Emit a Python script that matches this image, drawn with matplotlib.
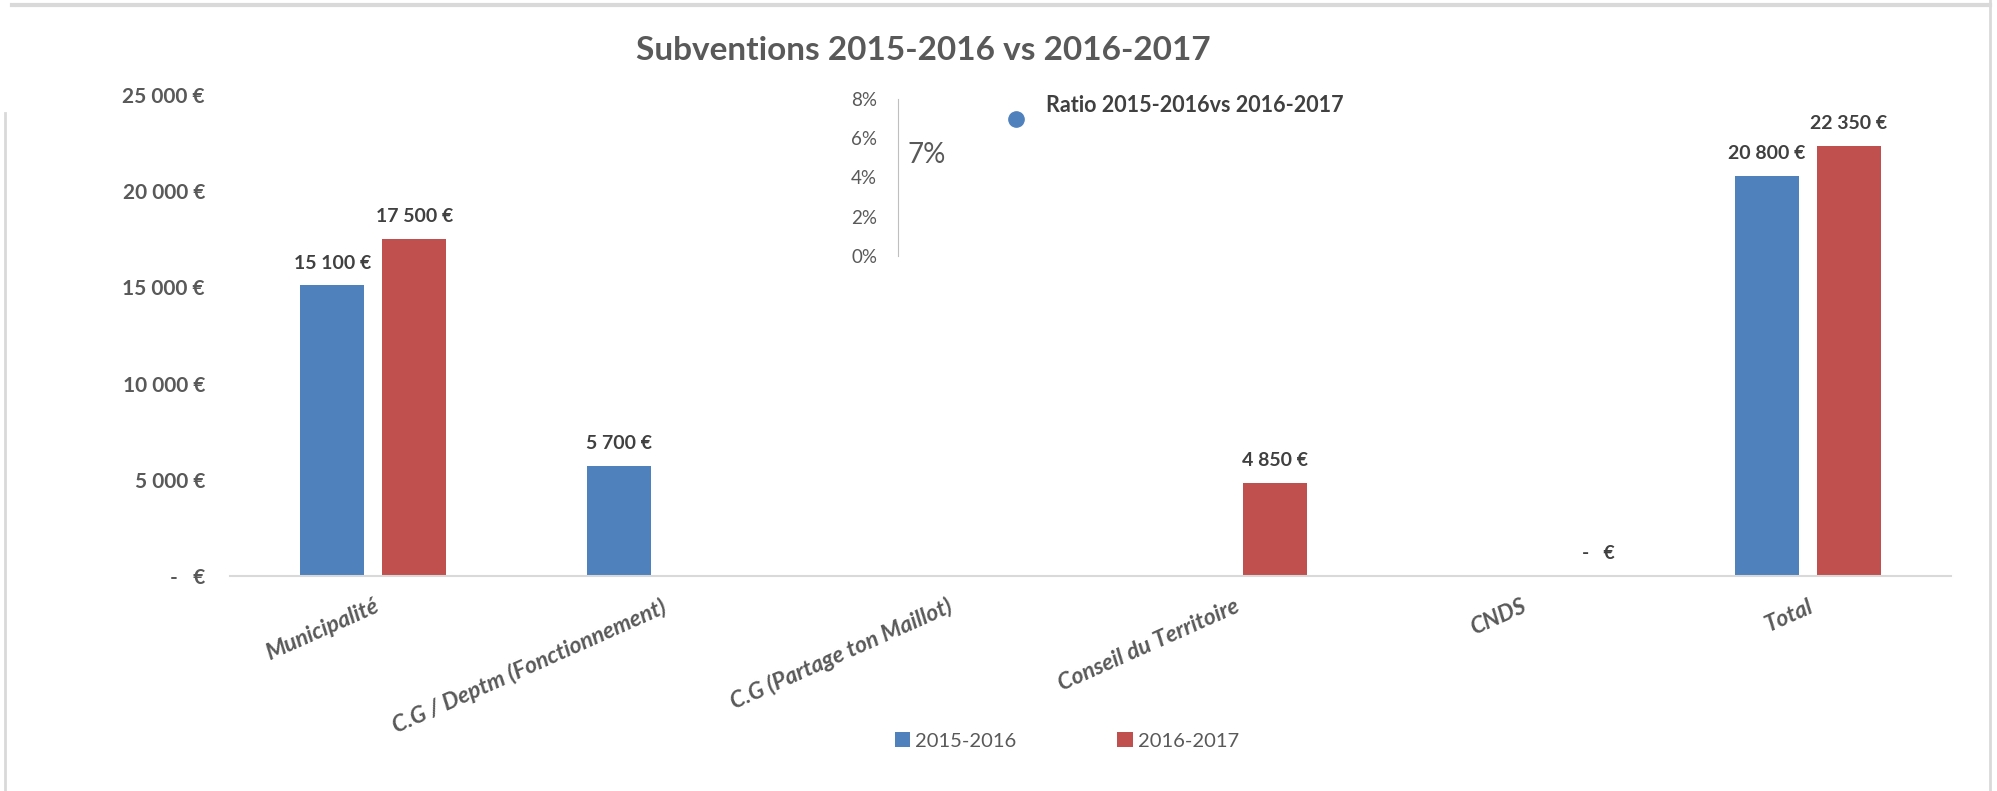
import matplotlib
matplotlib.use("Agg")
import matplotlib.pyplot as plt
import numpy as np
from matplotlib.lines import Line2D

# data
categories = ["Municipalité", "C.G / Deptm (Fonctionnement)", "C.G (Partage ton Maillot)",
              "Conseil du Territoire", "CNDS", "Total"]
series_names = ["2015-2016", "2016-2017"]
values_2015 = [15100, 5700, np.nan, np.nan, np.nan, 20800]
values_2016 = [17500, np.nan, np.nan, 4850, 0, 22350]
y_ticks = [0, 5000, 10000, 15000, 20000, 25000]
y_tick_labels = ["-   €", "5 000 €", "10 000 €", "15 000 €", "20 000 €", "25 000 €"]

ratio_name = "Ratio 2015-2016vs 2016-2017"
ratio_x = [1]
ratio_y = [0.07]
ratio_ticks = [0, 0.02, 0.04, 0.06, 0.08]
ratio_tick_labels = ["0%", "2%", "4%", "6%", "8%"]

blue = "#4F81BD"
red = "#C0504D"
grey_txt = "#595959"
dark_txt = "#404040"

plt.rcParams["font.family"] = ["Lato", "DejaVu Sans"]

W, H = 1997, 791
fig = plt.figure(figsize=(W / 100, H / 100), dpi=100)

# main bar chart
ax = fig.add_axes([230 / W, 1 - 576 / H, (1951 - 230) / W, (576 - 95) / H])
x = np.arange(len(categories))
bw = 0.223
off = 0.143
b1 = ax.bar(x - off, values_2015, bw, color=blue, label=series_names[0])
b2 = ax.bar(x + off, values_2016, bw, color=red, label=series_names[1])

ax.set_xlim(-0.5, len(categories) - 0.5)
ax.set_ylim(0, 25000)
ax.set_yticks(y_ticks)
ax.set_yticklabels(y_tick_labels, fontsize=15, fontweight="bold", color=grey_txt)
ax.tick_params(axis="y", length=0, pad=18)
ax.set_xticks(x)
ax.set_xticklabels(categories, fontsize=16.5, fontweight="bold", style="italic",
                   color=grey_txt, rotation=24, ha="right", va="top",
                   rotation_mode="anchor")
ax.tick_params(axis="x", length=0, pad=14)
for s in ["top", "right", "left"]:
    ax.spines[s].set_visible(False)
ax.spines["bottom"].set_color("#D9D9D9")
ax.spines["bottom"].set_linewidth(1.5)


def euro(v):
    if v == 0:
        return "-   €"
    return f"{v:,.0f}".replace(",", " ") + " €"


for bars, vals in [(b1, values_2015), (b2, values_2016)]:
    for rect, v in zip(bars, vals):
        if np.isnan(v):
            continue
        dx = 26 if v == 0 else 0
        ax.annotate(euro(v), (rect.get_x() + rect.get_width() / 2, v),
                    xytext=(dx, 10), textcoords="offset points",
                    ha="center", va="bottom", fontsize=14, fontweight="bold",
                    color=dark_txt)

leg = fig.legend(handles=[b1, b2], labels=series_names, loc="center",
                 bbox_to_anchor=(1067 / W, 1 - 741 / H), ncol=2, frameon=False,
                 fontsize=14.5, handlelength=0.75, handleheight=0.75,
                 handletextpad=0.25, columnspacing=5.0)
for t in leg.get_texts():
    t.set_color(grey_txt)

# small ratio chart
axr = fig.add_axes([898 / W, 1 - 256 / H, (1040 - 898) / W, (256 - 99) / H])
axr.plot(ratio_x, ratio_y, "o", color=blue, markersize=11)
axr.set_xlim(0, 1.2)
axr.set_ylim(0, 0.08)
axr.set_yticks(ratio_ticks)
axr.set_yticklabels(ratio_tick_labels, fontsize=13.5, color=grey_txt)
axr.tick_params(axis="y", length=0, pad=15)
axr.set_xticks([])
axr.patch.set_alpha(0)
for s in ["top", "right", "bottom"]:
    axr.spines[s].set_visible(False)
axr.spines["left"].set_color("#BFBFBF")
axr.text(0.065, 0.645, f"{ratio_y[0]:.0%}", transform=axr.transAxes, fontsize=20,
         color=grey_txt, va="center", ha="left")
fig.text(1046 / W, 1 - 105 / H, ratio_name, fontsize=15.5, fontweight="bold",
         color=dark_txt, va="center", ha="left")

# title
fig.text(923 / W, 1 - 50 / H, "Subventions 2015-2016 vs 2016-2017", fontsize=24,
         fontweight="bold", color=grey_txt, ha="center", va="center")

# chart frame remnants
fig.add_artist(Line2D([12 / W, 1990 / W], [1 - 5 / H, 1 - 5 / H], color="#D9D9D9", lw=3,
                      transform=fig.transFigure))
fig.add_artist(Line2D([5 / W, 5 / W], [0, 1 - 113 / H], color="#D9D9D9", lw=2,
                      transform=fig.transFigure))
fig.add_artist(Line2D([1990 / W, 1990 / W], [0, 1], color="#D9D9D9", lw=2,
                      transform=fig.transFigure))

fig.savefig("out.png", dpi=100)
